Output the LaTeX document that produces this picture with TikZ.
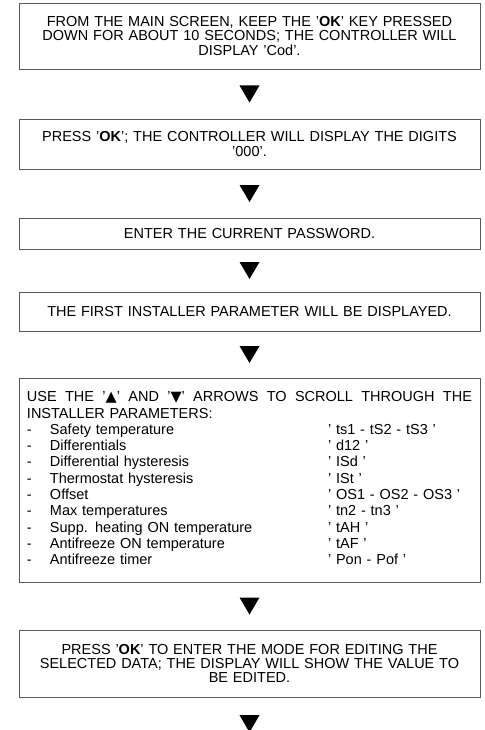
\documentclass[tikz,border=0pt]{standalone}
\usepackage{fontspec}
\setmainfont{Liberation Sans}
\newfontfamily\symfont{DejaVu Sans}
\usepackage{tikz}
\usetikzlibrary{calc}
\usepackage{xcolor}
\definecolor{boxline}{HTML}{5A5A5A}
\lineskiplimit=-20pt
\newcommand{\stepfont}{\fontsize{14.5}{14.2}\selectfont}
\newcommand{\listfont}{\fontsize{14.5}{16.3}\selectfont}
\newcommand{\flowtip}[2]{%
  \fill ($(#1)!0.5!(#2)$) ++(-10,-8.5) -- ++(20,0) -- ++(-10,17) -- cycle;}

\begin{document}
\begin{tikzpicture}[x=1pt, y=-1pt,
    every node/.style={font=\stepfont},
    stepbox/.style={draw=boxline, line width=0.8pt, minimum width=461pt,
      inner xsep=8pt, inner ysep=0pt, text width=445pt, align=center}]
  \useasboundingbox (0,0) rectangle (484,730);
  \node[stepbox, minimum height=66pt] (cod) at (249.5,36)
    {FROM THE MAIN SCREEN, KEEP THE '\textbf{OK}' KEY PRESSED\\
     DOWN FOR ABOUT 10 SECONDS; THE CONTROLLER WILL\\
     DISPLAY 'Cod'.};
  \node[stepbox, minimum height=50pt] (digits) at (249.5,144)
    {PRESS '\textbf{OK}'; THE CONTROLLER WILL DISPLAY THE DIGITS\\ '000'.};
  \node[stepbox, minimum height=31pt] (password) at (249.5,233.5)
    {ENTER THE CURRENT PASSWORD.};
  \node[stepbox, minimum height=39pt] (firstpar) at (249.5,311.5)
    {THE FIRST INSTALLER PARAMETER WILL BE DISPLAYED.};
  \node[stepbox, minimum height=204pt, align=left, font=\listfont] (scroll) at (249.5,480)
    {\begin{tabular}{@{}p{23pt}@{}p{278pt}@{}l@{}}
      \multicolumn{3}{@{}l@{}}{\hbox to 445pt{USE\hfill THE\hfill '{\symfont ▲}'\hfill AND\hfill
        '{\symfont ▼}'\hfill ARROWS\hfill TO\hfill SCROLL\hfill THROUGH\hfill THE}}\\
      \multicolumn{3}{@{}l@{}}{INSTALLER PARAMETERS:}\\
      - & Safety temperature           & ' ts1 - tS2 - tS3 '\\
      - & Differentials                & ' d12 '\\
      - & Differential hysteresis      & ' ISd '\\
      - & Thermostat hysteresis        & ' ISt '\\
      - & Offset                       & ' OS1 - OS2 - OS3 '\\
      - & Max temperatures             & ' tn2 - tn3 '\\
      - & Supp. heating ON temperature & ' tAH '\\
      - & Antifreeze ON temperature    & ' tAF '\\
      - & Antifreeze timer             & ' Pon - Pof '
    \end{tabular}};
  \node[stepbox, minimum height=67pt] (edit) at (249.5,663.5)
    {PRESS '\textbf{OK}' TO ENTER THE MODE FOR EDITING THE\\
     SELECTED DATA; THE DISPLAY WILL SHOW THE VALUE TO\\
     BE EDITED.};
  \coordinate (more) at (249.5,750);
  % arrows between the steps
  \flowtip{cod.south}{digits.north}
  \flowtip{digits.south}{password.north}
  \flowtip{password.south}{firstpar.north}
  \flowtip{firstpar.south}{scroll.north}
  \flowtip{scroll.south}{edit.north}
  \flowtip{edit.south}{more}
\end{tikzpicture}
\end{document}
